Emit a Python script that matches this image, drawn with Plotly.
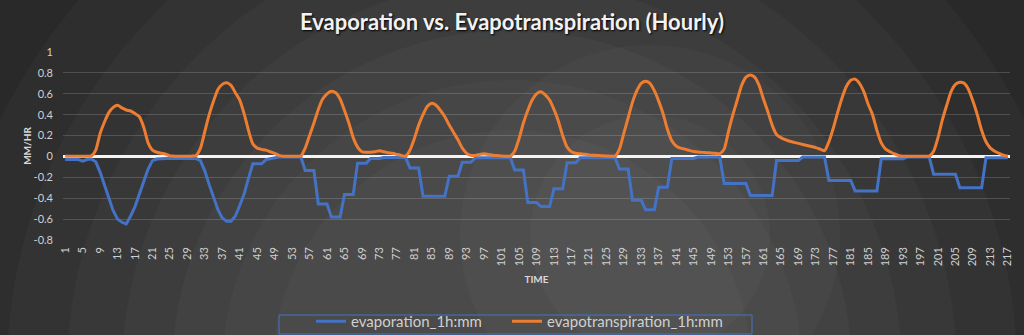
import plotly.graph_objects as go

# ---------------- data ----------------
hours = list(range(1, 218))
x_tick_vals = list(range(1, 218, 4))
x_tick_text = [str(v) for v in x_tick_vals]
y_tick_vals = [-0.8, -0.6, -0.4, -0.2, 0, 0.2, 0.4, 0.6, 0.8, 1]
y_tick_text = ["-0.8", "-0.6", "-0.4", "-0.2", "0", "0.2", "0.4", "0.6", "0.8", "1"]

evaporation = [
    -0.03, -0.03, -0.03, -0.03, -0.045, -0.03, -0.025, -0.05, -0.15, -0.27, -0.41, -0.52,
    -0.60, -0.63, -0.645, -0.57, -0.48, -0.37, -0.24, -0.12, -0.04, -0.025, -0.02, -0.02,
    -0.02, -0.02, -0.02, -0.02, -0.02, -0.02, -0.02, -0.04, -0.14, -0.27, -0.39, -0.51,
    -0.59, -0.62, -0.62, -0.57, -0.47, -0.36, -0.21, -0.07, -0.07, -0.07, -0.03, -0.02,
    -0.015, -0.005, -0.005, -0.005, -0.005, -0.005, -0.005, -0.135, -0.135, -0.135, -0.455, -0.455,
    -0.455, -0.58, -0.58, -0.58, -0.365, -0.365, -0.365, -0.064, -0.064, -0.064, -0.02, -0.02,
    -0.02, -0.01, -0.01, -0.01, -0.01, -0.01, -0.01, -0.11, -0.11, -0.11, -0.38, -0.38,
    -0.38, -0.38, -0.38, -0.38, -0.19, -0.19, -0.19, -0.055, -0.055, -0.055, -0.013, -0.013,
    -0.013, -0.013, -0.013, -0.013, -0.013, -0.013, -0.013, -0.13, -0.13, -0.13, -0.44, -0.44,
    -0.44, -0.48, -0.48, -0.48, -0.31, -0.31, -0.31, -0.06, -0.06, -0.06, -0.013, -0.013,
    -0.013, -0.013, -0.013, -0.013, -0.013, -0.013, -0.013, -0.12, -0.12, -0.12, -0.42, -0.42,
    -0.42, -0.51, -0.51, -0.51, -0.295, -0.295, -0.295, -0.02, -0.02, -0.02, -0.02, -0.02,
    -0.02, -0.006, -0.006, -0.006, -0.006, -0.006, -0.006, -0.26, -0.26, -0.26, -0.26, -0.26,
    -0.26, -0.375, -0.375, -0.375, -0.375, -0.375, -0.375, -0.04, -0.04, -0.04, -0.04, -0.04,
    -0.04, -0.006, -0.006, -0.006, -0.006, -0.006, -0.006, -0.23, -0.23, -0.23, -0.23, -0.23,
    -0.23, -0.33, -0.33, -0.33, -0.33, -0.33, -0.33, -0.022, -0.022, -0.022, -0.022, -0.022,
    -0.022, -0.006, -0.006, -0.006, -0.006, -0.006, -0.006, -0.17, -0.17, -0.17, -0.17, -0.17,
    -0.17, -0.30, -0.30, -0.30, -0.30, -0.30, -0.30, -0.013, -0.013, -0.013, -0.013, -0.013,
    -0.013,
]

evapotranspiration = [
    0.003, 0.003, 0.003, 0.003, 0.003, 0.003, 0.005, 0.06, 0.22, 0.33, 0.42, 0.47,
    0.49, 0.465, 0.445, 0.435, 0.41, 0.38, 0.28, 0.13, 0.06, 0.04, 0.03, 0.022,
    0.005, 0.003, 0.003, 0.003, 0.003, 0.003, 0.01, 0.08, 0.24, 0.40, 0.53, 0.64,
    0.69, 0.705, 0.68, 0.61, 0.54, 0.41, 0.25, 0.12, 0.08, 0.068, 0.06, 0.045,
    0.03, 0.01, 0.003, 0.003, 0.003, 0.003, 0.003, 0.08, 0.20, 0.32, 0.45, 0.55,
    0.60, 0.625, 0.61, 0.55, 0.44, 0.32, 0.18, 0.09, 0.045, 0.04, 0.04, 0.045,
    0.055, 0.045, 0.035, 0.03, 0.02, 0.01, 0.003, 0.06, 0.17, 0.30, 0.40, 0.48,
    0.51, 0.49, 0.44, 0.38, 0.30, 0.23, 0.16, 0.08, 0.03, 0.01, 0.01, 0.02,
    0.025, 0.018, 0.012, 0.008, 0.005, 0.003, 0.003, 0.05, 0.17, 0.32, 0.44, 0.54,
    0.60, 0.62, 0.59, 0.54, 0.45, 0.34, 0.20, 0.09, 0.045, 0.03, 0.025, 0.02,
    0.015, 0.012, 0.01, 0.006, 0.004, 0.003, 0.003, 0.07, 0.22, 0.37, 0.52, 0.63,
    0.70, 0.72, 0.70, 0.63, 0.53, 0.41, 0.26, 0.15, 0.10, 0.08, 0.07, 0.058,
    0.048, 0.043, 0.039, 0.036, 0.033, 0.03, 0.027, 0.07, 0.24, 0.40, 0.54, 0.68,
    0.76, 0.78, 0.76, 0.68, 0.55, 0.43, 0.30, 0.21, 0.18, 0.16, 0.145, 0.135,
    0.125, 0.115, 0.105, 0.095, 0.085, 0.07, 0.055, 0.14, 0.27, 0.42, 0.56, 0.67,
    0.73, 0.74, 0.70, 0.62, 0.50, 0.40, 0.25, 0.13, 0.07, 0.045, 0.025, 0.008,
    0.003, 0.003, 0.003, 0.003, 0.003, 0.003, 0.003, 0.05, 0.18, 0.35, 0.49, 0.62,
    0.69, 0.71, 0.70, 0.64, 0.53, 0.40, 0.25, 0.14, 0.08, 0.05, 0.03, 0.012,
    0.002,
]

# ---------------- layout helpers ----------------
W, H = 1024, 335
PL, PR, PT, PB = 63, 1010, 52, 240  # plot area in pixels


def px(xp):
    return (xp - PL) / (PR - PL)


def py(yp):
    return (PB - yp) / (PB - PT)


FONT = "Lato, 'Open Sans', sans-serif"
TXT = "#d0d0d0"

shapes = []
# concentric background rings (outer -> inner)
ring_center = (512, 370)
rings = [(820, "#1f1f1f"), (720, "#242424"), (640, "#292929"), (570, "#2e2e2e"),
         (505, "#333333"), (445, "#383838"), (390, "#3d3d3d"), (340, "#424242"),
         (290, "#464646"), (240, "#4a4a4a")]
for r, c in rings:
    cx, cy = ring_center
    shapes.append(dict(type="circle", xref="paper", yref="paper", layer="below",
                       x0=px(cx - r), x1=px(cx + r), y0=py(cy + r), y1=py(cy - r),
                       fillcolor=c, line=dict(width=0)))
# subtle secondary glow
for r, op in [(190, 0.025), (120, 0.025)]:
    cx, cy = 650, 235
    shapes.append(dict(type="circle", xref="paper", yref="paper", layer="below",
                       x0=px(cx - r), x1=px(cx + r), y0=py(cy + r), y1=py(cy - r),
                       fillcolor=f"rgba(255,255,255,{op})", line=dict(width=0)))
# legend frame
shapes.append(dict(type="rect", xref="paper", yref="paper", layer="above",
                   x0=px(279), x1=px(752), y0=py(334), y1=py(315),
                   fillcolor="rgba(0,0,0,0)", line=dict(color="#4472C4", width=1)))

fig = go.Figure()
fig.add_trace(go.Scatter(x=hours, y=evaporation, mode="lines", name="evaporation_1h:mm",
                         line=dict(color="#4472C4", width=3), legend="legend"))
fig.add_trace(go.Scatter(x=hours, y=evapotranspiration, mode="lines",
                         name="evapotranspiration_1h:mm", legend="legend2",
                         line=dict(color="#ED7D31", width=3, shape="spline", smoothing=0.6)))

leg_common = dict(orientation="h", xanchor="left", yanchor="top", y=py(305),
                  bgcolor="rgba(0,0,0,0)", borderwidth=0,
                  font=dict(size=15, color=TXT), itemwidth=30)

fig.update_layout(
    width=W, height=H,
    margin=dict(l=PL, r=W - PR, t=PT, b=H - PB, pad=0, autoexpand=False),
    paper_bgcolor="#262626",
    plot_bgcolor="rgba(0,0,0,0)",
    font=dict(family=FONT, color=TXT, size=11),
    title=dict(text="Evaporation vs. Evapotranspiration (Hourly)", xref="container", x=0.5,
               xanchor="center", yref="container", y=1 - 22 / H, yanchor="middle",
               font=dict(family=FONT, size=22, color="#f2f2f2", weight="bold",
                         shadow="1px 1px 2px #000")),
    shapes=shapes,
    showlegend=True,
    legend=dict(x=px(311), **leg_common),
    legend2=dict(x=px(507), **leg_common),
    hovermode=False,
)

fig.update_xaxes(
    range=[0.5, 217.5], tickmode="array", tickvals=x_tick_vals, ticktext=x_tick_text,
    tickangle=-90, showgrid=False, zeroline=False, showline=False, ticks="",
    ticklabelstandoff=4, tickfont=dict(size=11, color=TXT), automargin=False,
    title=dict(text="TIME", font=dict(size=10, color="#d9d9d9", weight="bold"), standoff=10),
)
fig.update_yaxes(
    range=[-0.8, 1], tickmode="array", tickvals=y_tick_vals, ticktext=y_tick_text,
    showgrid=True, gridcolor="rgba(255,255,255,0.16)", gridwidth=1,
    zeroline=True, zerolinecolor="#f4f4f4", zerolinewidth=3, automargin=False,
    showline=False, ticks="", ticklabelstandoff=9, tickfont=dict(size=11, color=TXT),
    title=dict(text="MM/HR", font=dict(size=10, color="#d9d9d9", weight="bold"), standoff=0),
)

fig.write_html("out.html")
